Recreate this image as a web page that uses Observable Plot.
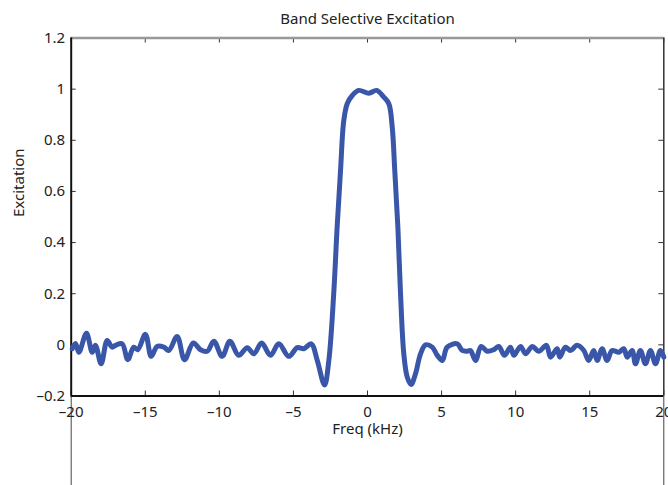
<!DOCTYPE html>
<html>
<head>
<meta charset="utf-8">
<script src="https://cdn.jsdelivr.net/npm/d3@7"></script>
<script src="https://cdn.jsdelivr.net/npm/@observablehq/plot@0.6"></script>
<style>
  html, body { margin: 0; padding: 0; background: #fff; }
  #chart svg { display: block; }
</style>
</head>
<body>
<div id="chart"></div>
<script>
const titleText = "Band Selective Excitation";
const xLabel = "Freq (kHz)";
const yLabel = "Excitation";
const xTicks = [-20, -15, -10, -5, 0, 5, 10, 15, 20];
const yTicks = [-0.2, 0, 0.2, 0.4, 0.6, 0.8, 1, 1.2];

const freq = [
  -19.93, -19.71, -19.48, -18.97, -18.58, -18.36, -17.98, -17.57, -17.24, -17.01,
  -16.56, -16.18, -15.78, -15.51, -14.99, -14.60, -14.20, -13.75, -13.41, -12.85,
  -12.35, -11.76, -11.27, -10.82, -10.37, -9.81, -9.29, -8.69, -8.12, -7.67,
  -7.15, -6.55, -5.99, -5.31, -4.74, -4.30, -3.80, -3.39, -2.90, -2.61,
  -2.28, -2.05, -1.82, -1.60, -1.37, -1.03, -0.59, 0.09, 0.61, 1.10,
  1.44, 1.67, 1.84, 2.05, 2.23, 2.45, 2.68, 2.94, 3.24, 3.58,
  3.92, 4.37, 4.71, 5.05, 5.38, 6.06, 6.39, 6.73, 6.95, 7.29,
  7.67, 8.08, 8.52, 8.86, 9.25, 9.65, 9.88, 10.33, 10.67, 11.12,
  11.56, 12.08, 12.35, 12.80, 12.98, 13.36, 13.70, 14.15, 14.60, 14.93,
  15.27, 15.50, 15.84, 16.17, 16.51, 16.96, 17.30, 17.53, 17.86, 18.09,
  18.42, 18.76, 19.10, 19.44, 19.77, 20.0
];
const excitation = [
  -0.015, 0.005, -0.029, 0.045, -0.029, -0.002, -0.074, 0.017, -0.009, -0.002,
  0.004, -0.058, -0.009, -0.019, 0.041, -0.045, -0.006, -0.009, -0.022, 0.033,
  -0.058, 0.007, -0.019, -0.025, 0.014, -0.045, 0.014, -0.041, -0.011, -0.035,
  0.007, -0.041, 0.004, -0.045, -0.011, -0.015, 0.004, -0.061, -0.157, -0.061,
  0.200, 0.460, 0.682, 0.878, 0.943, 0.975, 0.995, 0.984, 0.995, 0.969,
  0.943, 0.851, 0.682, 0.460, 0.200, -0.035, -0.126, -0.155, -0.113, -0.035,
  0.000, -0.009, -0.041, -0.061, -0.009, 0.004, -0.022, -0.025, -0.022, -0.061,
  -0.006, -0.025, -0.019, -0.006, -0.041, -0.009, -0.041, -0.006, -0.035, -0.006,
  -0.025, -0.002, -0.048, -0.015, -0.048, -0.009, -0.022, -0.002, -0.022, -0.061,
  -0.022, -0.061, -0.015, -0.061, -0.022, -0.029, -0.015, -0.048, -0.022, -0.074,
  -0.022, -0.074, -0.022, -0.074, -0.022, -0.048
];

const data = freq.map((f, i) => ({freq: f, exc: excitation[i]}));
const xMin = xTicks[0], xMax = xTicks[xTicks.length - 1];
const yMin = yTicks[0], yMax = yTicks[yTicks.length - 1];

const W = 668, H = 485;
const mL = 70.7, mR = 4.7, mT = 37.5, mB = 89.5;
const pxPerX = (W - mL - mR) / (xMax - xMin);
const pxPerY = (H - mT - mB) / (yMax - yMin);
const tickLen = 5;
const fmt = d => (d < 0 ? "\u2013" + String(-d) : String(d));
const font = "'Noto Sans', 'Liberation Sans', sans-serif";

const chart = Plot.plot({
  width: W,
  height: H,
  marginLeft: mL,
  marginRight: mR,
  marginTop: mT,
  marginBottom: mB,
  style: {fontFamily: font, fontSize: "14px", color: "#222", background: "#fff", overflow: "visible"},
  x: {domain: [xMin, xMax]},
  y: {domain: [yMin, yMax]},
  marks: [
    // artifact lines below the axes
    Plot.ruleX([xMin, xMax], {y1: yMin, y2: yMin - mB / pxPerY, stroke: "#444", strokeWidth: 1, clip: false}),
    // inward ticks
    Plot.ruleX(xTicks, {y1: yMin, y2: yMin + tickLen / pxPerY, stroke: "#333", strokeWidth: 1}),
    Plot.ruleX(xTicks, {y1: yMax - tickLen / pxPerY, y2: yMax, stroke: "#333", strokeWidth: 1}),
    Plot.ruleY(yTicks, {x1: xMin, x2: xMin + tickLen / pxPerX, stroke: "#333", strokeWidth: 1}),
    Plot.ruleY(yTicks, {x1: xMax - tickLen / pxPerX, x2: xMax, stroke: "#333", strokeWidth: 1}),
    // frame
    Plot.ruleY([yMax], {stroke: "#999", strokeWidth: 2.5}),
    Plot.ruleX([xMax], {stroke: "#333", strokeWidth: 1.5}),
    Plot.ruleX([xMin], {stroke: "#111", strokeWidth: 2}),
    Plot.ruleY([yMin], {stroke: "#111", strokeWidth: 2}),
    // data line
    Plot.line(data, {x: "freq", y: "exc", stroke: "#3a56a8", strokeWidth: 5, curve: "catmull-rom", strokeLinejoin: "round", strokeLinecap: "round"}),
    // axes labels
    Plot.axisX(xTicks, {tickSize: 0, tickPadding: 10, tickFormat: fmt, fontSize: 15, label: null}),
    Plot.axisY(yTicks, {tickSize: 0, tickPadding: 6, tickFormat: fmt, fontSize: 15, label: null}),
    Plot.text([xLabel], {frameAnchor: "bottom", dy: 38, fontSize: 15, text: d => d}),
    Plot.text([yLabel], {frameAnchor: "left", dx: -52, rotate: -90, fontSize: 15, text: d => d}),
    Plot.text([titleText], {frameAnchor: "top", dy: -25, fontSize: 15, text: d => d})
  ]
});
document.getElementById("chart").appendChild(chart);
</script>
</body>
</html>
